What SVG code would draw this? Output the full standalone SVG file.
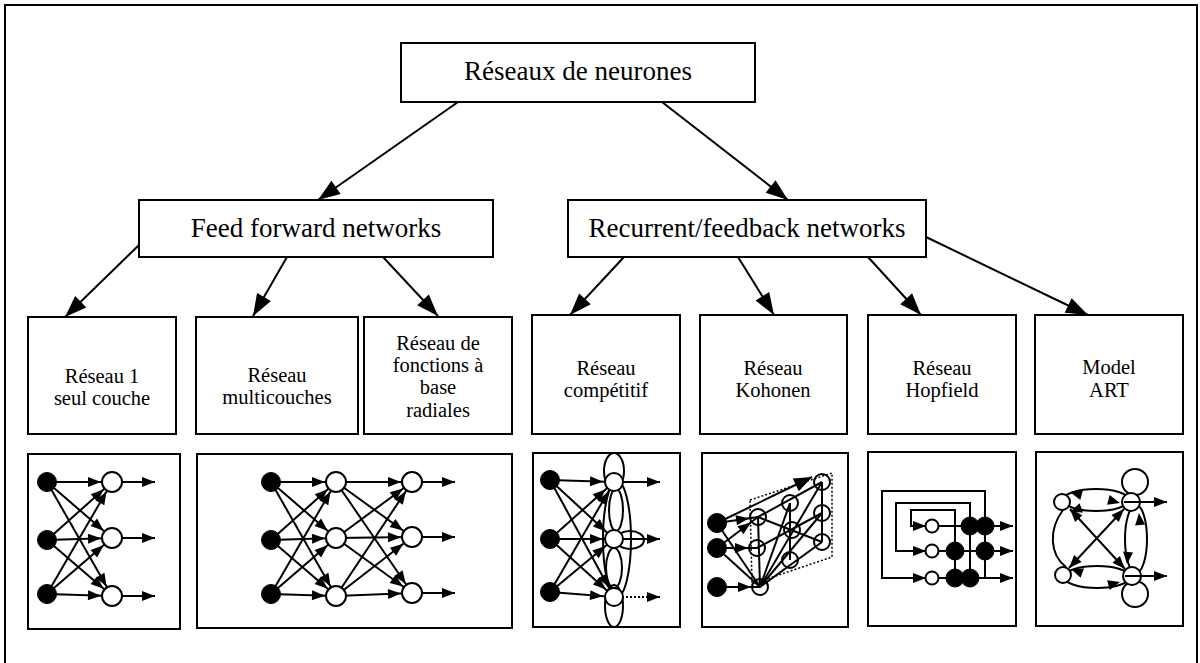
<svg xmlns="http://www.w3.org/2000/svg" xmlns:xlink="http://www.w3.org/1999/xlink" width="1200" height="663" viewBox="0 0 1200 663">
  <style>
    .frame { fill: none; stroke: #000; stroke-width: 2; }
    .box { fill: #fff; stroke: #000; stroke-width: 2; }
    .t1 { font-family: "Liberation Serif", "Times New Roman", serif; font-size: 27px; fill: #000; text-anchor: middle; }
    .t2 { font-family: "Liberation Serif", "Times New Roman", serif; font-size: 20.5px; fill: #000; text-anchor: middle; }
    .conn line { stroke: #000; stroke-width: 2; }
    .net line, .net path, .net polyline { stroke: #000; stroke-width: 2; fill: none; }
    .net .dot { stroke-dasharray: 2 2; }
    .on { fill: #fff; stroke: #000; stroke-width: 2; }
    .off { fill: #000; stroke: #000; stroke-width: 1; }
    .ring { fill: none; stroke: #000; stroke-width: 2; }
    .tri { fill: #000; }
  </style>
  <defs>
    <!-- large arrowhead for the hierarchy -->
    <marker id="hd" markerUnits="userSpaceOnUse" markerWidth="22" markerHeight="16" refX="22" refY="8" orient="auto" overflow="visible">
      <path d="M0,0 L22,8 L0,16 Z" fill="#000"/>
    </marker>
    <!-- medium arrowhead -->
    <marker id="mh" markerUnits="userSpaceOnUse" markerWidth="18" markerHeight="14" refX="18" refY="7" orient="auto" overflow="visible">
      <path d="M0,0 L18,7 L0,14 Z" fill="#000"/>
    </marker>
    <!-- small arrowhead, tip at the line end -->
    <marker id="sa" markerUnits="userSpaceOnUse" markerWidth="13" markerHeight="10" refX="13" refY="5" orient="auto-start-reverse" overflow="visible">
      <path d="M0,0 L13,5 L0,10 Z" fill="#000"/>
    </marker>
    <!-- small arrowhead stopping short of a r=10 neuron -->
    <marker id="s10" markerUnits="userSpaceOnUse" markerWidth="24" markerHeight="10" refX="24" refY="5" orient="auto" overflow="visible">
      <path d="M0,0 L13,5 L0,10 Z" fill="#000"/>
    </marker>
    <!-- small arrowhead stopping short of a r=8 neuron -->
    <marker id="s7" markerUnits="userSpaceOnUse" markerWidth="22" markerHeight="10" refX="22" refY="5" orient="auto" overflow="visible">
      <path d="M0,0 L13,5 L0,10 Z" fill="#000"/>
    </marker>
    <path id="tri" d="M0,0 L-12,-5 L-12,5 Z"/>
  </defs>

  <!-- outer frame -->
  <rect class="frame" x="5" y="5" width="1192" height="700"/>

  <!-- hierarchy connectors -->
  <g id="connectors" class="conn">
    <line x1="458" y1="102" x2="318" y2="200" marker-end="url(#hd)"/>
    <line x1="662" y1="102" x2="788" y2="200" marker-end="url(#hd)"/>
    <line x1="139" y1="245" x2="65" y2="317" marker-end="url(#hd)"/>
    <line x1="287" y1="257" x2="253" y2="316" marker-end="url(#hd)"/>
    <line x1="383" y1="257" x2="438" y2="316" marker-end="url(#hd)"/>
    <line x1="624" y1="257" x2="570" y2="315" marker-end="url(#hd)"/>
    <line x1="738" y1="257" x2="774" y2="315" marker-end="url(#hd)"/>
    <line x1="868" y1="257" x2="921" y2="315" marker-end="url(#hd)"/>
    <line x1="926" y1="237" x2="1088" y2="315" marker-end="url(#hd)"/>
  </g>

  <!-- top and second level -->
  <g id="root">
    <rect class="box" x="401" y="43" width="354" height="59"/>
    <text class="t1" x="578" y="80">Réseaux de neurones</text>
  </g>
  <g id="feedforward">
    <rect class="box" x="139" y="200" width="354" height="57"/>
    <text class="t1" x="316" y="237">Feed forward networks</text>
  </g>
  <g id="recurrent">
    <rect class="box" x="568" y="200" width="358" height="57"/>
    <text class="t1" x="747" y="237">Recurrent/feedback networks</text>
  </g>

  <!-- third level labels -->
  <g id="single-layer">
    <rect class="box" x="28" y="317" width="148" height="117"/>
    <text class="t2" x="102" y="383">Réseau  1<tspan x="102" dy="22">seul couche</tspan></text>
  </g>
  <g id="multilayer">
    <rect class="box" x="196" y="317" width="162" height="117"/>
    <text class="t2" x="277" y="382">Réseau<tspan x="277" dy="22">multicouches</tspan></text>
  </g>
  <g id="rbf">
    <rect class="box" x="364" y="317" width="148" height="117"/>
    <text class="t2" x="438" y="350">Réseau de<tspan x="438" dy="22">fonctions à</tspan><tspan x="438" dy="22">base</tspan><tspan x="438" dy="23">radiales</tspan></text>
  </g>
  <g id="competitive">
    <rect class="box" x="532" y="315" width="148" height="119"/>
    <text class="t2" x="606" y="375">Réseau<tspan x="606" dy="22">compétitif</tspan></text>
  </g>
  <g id="kohonen">
    <rect class="box" x="700" y="315" width="147" height="119"/>
    <text class="t2" x="773" y="375">Réseau<tspan x="773" dy="22">Kohonen</tspan></text>
  </g>
  <g id="hopfield">
    <rect class="box" x="868" y="315" width="148" height="119"/>
    <text class="t2" x="942" y="375">Réseau<tspan x="942" dy="22">Hopfield</tspan></text>
  </g>
  <g id="art">
    <rect class="box" x="1035" y="315" width="148" height="119"/>
    <text class="t2" x="1109" y="374">Model<tspan x="1109" dy="23">ART</tspan></text>
  </g>

  <!-- single-layer network sketch -->
  <g id="sketch-single" class="net">
    <rect class="box" x="28" y="454" width="152" height="175"/>
    <line x1="47" y1="482" x2="112" y2="482" marker-end="url(#s10)"/>
    <line x1="47" y1="482" x2="112" y2="538" marker-end="url(#s10)"/>
    <line x1="47" y1="482" x2="112" y2="596" marker-end="url(#s10)"/>
    <line x1="47" y1="540" x2="112" y2="482" marker-end="url(#s10)"/>
    <line x1="47" y1="540" x2="112" y2="538" marker-end="url(#s10)"/>
    <line x1="47" y1="540" x2="112" y2="596" marker-end="url(#s10)"/>
    <line x1="47" y1="594" x2="112" y2="482" marker-end="url(#s10)"/>
    <line x1="47" y1="594" x2="112" y2="538" marker-end="url(#s10)"/>
    <line x1="47" y1="594" x2="112" y2="596" marker-end="url(#s10)"/>
    <line x1="112" y1="482" x2="155" y2="482" marker-end="url(#sa)"/>
    <line x1="112" y1="538" x2="155" y2="538" marker-end="url(#sa)"/>
    <line x1="112" y1="596" x2="155" y2="596" marker-end="url(#sa)"/>
    <circle class="off" cx="47" cy="482" r="9.5"/>
    <circle class="off" cx="47" cy="540" r="9.5"/>
    <circle class="off" cx="47" cy="594" r="9.5"/>
    <circle class="on" cx="112" cy="482" r="10"/>
    <circle class="on" cx="112" cy="538" r="10"/>
    <circle class="on" cx="112" cy="596" r="10"/>
  </g>

  <!-- multilayer network sketch -->
  <g id="sketch-multi" class="net">
    <rect class="box" x="197" y="454" width="315" height="174"/>
    <line x1="271" y1="482" x2="336" y2="482" marker-end="url(#s10)"/>
    <line x1="271" y1="482" x2="336" y2="538" marker-end="url(#s10)"/>
    <line x1="271" y1="482" x2="336" y2="596" marker-end="url(#s10)"/>
    <line x1="271" y1="540" x2="336" y2="482" marker-end="url(#s10)"/>
    <line x1="271" y1="540" x2="336" y2="538" marker-end="url(#s10)"/>
    <line x1="271" y1="540" x2="336" y2="596" marker-end="url(#s10)"/>
    <line x1="271" y1="594" x2="336" y2="482" marker-end="url(#s10)"/>
    <line x1="271" y1="594" x2="336" y2="538" marker-end="url(#s10)"/>
    <line x1="271" y1="594" x2="336" y2="596" marker-end="url(#s10)"/>
    <line x1="336" y1="482" x2="412" y2="482" marker-end="url(#s10)"/>
    <line x1="336" y1="482" x2="412" y2="537" marker-end="url(#s10)"/>
    <line x1="336" y1="482" x2="412" y2="593" marker-end="url(#s10)"/>
    <line x1="336" y1="538" x2="412" y2="482" marker-end="url(#s10)"/>
    <line x1="336" y1="538" x2="412" y2="537" marker-end="url(#s10)"/>
    <line x1="336" y1="538" x2="412" y2="593" marker-end="url(#s10)"/>
    <line x1="336" y1="596" x2="412" y2="482" marker-end="url(#s10)"/>
    <line x1="336" y1="596" x2="412" y2="537" marker-end="url(#s10)"/>
    <line x1="336" y1="596" x2="412" y2="593" marker-end="url(#s10)"/>
    <line x1="412" y1="482" x2="455" y2="482" marker-end="url(#sa)"/>
    <line x1="412" y1="537" x2="455" y2="537" marker-end="url(#sa)"/>
    <line x1="412" y1="593" x2="455" y2="593" marker-end="url(#sa)"/>
    <circle class="off" cx="271" cy="482" r="9.5"/>
    <circle class="off" cx="271" cy="540" r="9.5"/>
    <circle class="off" cx="271" cy="594" r="9.5"/>
    <circle class="on" cx="336" cy="482" r="10"/>
    <circle class="on" cx="336" cy="538" r="10"/>
    <circle class="on" cx="336" cy="596" r="10"/>
    <circle class="on" cx="412" cy="482" r="10"/>
    <circle class="on" cx="412" cy="537" r="10"/>
    <circle class="on" cx="412" cy="593" r="10"/>
  </g>

  <!-- competitive network sketch -->
  <g id="sketch-competitive" class="net">
    <rect class="box" x="533" y="453" width="147" height="174"/>
    <line x1="550" y1="480" x2="614" y2="482" marker-end="url(#s10)"/>
    <line x1="550" y1="480" x2="614" y2="539" marker-end="url(#s10)"/>
    <line x1="550" y1="480" x2="614" y2="597" marker-end="url(#s10)"/>
    <line x1="550" y1="539" x2="614" y2="482" marker-end="url(#s10)"/>
    <line x1="550" y1="539" x2="614" y2="539" marker-end="url(#s10)"/>
    <line x1="550" y1="539" x2="614" y2="597" marker-end="url(#s10)"/>
    <line x1="550" y1="592" x2="614" y2="482" marker-end="url(#s10)"/>
    <line x1="550" y1="592" x2="614" y2="539" marker-end="url(#s10)"/>
    <line x1="550" y1="592" x2="614" y2="597" marker-end="url(#s10)"/>
    <line x1="614" y1="482" x2="660" y2="482" marker-end="url(#sa)"/>
    <line x1="614" y1="539" x2="660" y2="539" marker-end="url(#sa)"/>
    <line class="dot" x1="614" y1="597" x2="660" y2="597" marker-end="url(#sa)"/>
    <ellipse class="ring" cx="617" cy="539" rx="14" ry="58"/>
    <ellipse class="ring" cx="614" cy="471" rx="10" ry="18"/>
    <ellipse class="ring" cx="616" cy="510" rx="7" ry="21"/>
    <ellipse class="ring" cx="614" cy="568" rx="8" ry="20"/>
    <ellipse class="ring" cx="614" cy="606" rx="9" ry="21"/>
    <ellipse class="ring" cx="630" cy="540" rx="14" ry="9"/>
    <circle class="off" cx="550" cy="480" r="9.5"/>
    <circle class="off" cx="550" cy="539" r="9.5"/>
    <circle class="off" cx="550" cy="592" r="9.5"/>
    <circle class="on" cx="614" cy="482" r="9"/>
    <circle class="on" cx="614" cy="539" r="9"/>
    <circle class="on" cx="614" cy="597" r="9"/>
  </g>

  <!-- Kohonen map sketch -->
  <g id="sketch-kohonen" class="net">
    <rect class="box" x="702" y="453" width="146" height="174"/>
    <polygon class="dot" points="750,500 832,473 832,557 752,584" fill="none" stroke="#000" stroke-width="1.5"/>
    <!-- lattice links -->
    <line x1="758" y1="517" x2="822" y2="482"/>
    <line x1="757" y1="548" x2="822" y2="513"/>
    <line x1="760" y1="587" x2="822" y2="542"/>
    <line x1="758" y1="517" x2="822" y2="542"/>
    <line x1="760" y1="587" x2="822" y2="482"/>
    <line x1="760" y1="587" x2="822" y2="513"/>
    <line x1="760" y1="587" x2="790" y2="503"/>
    <line x1="758" y1="517" x2="760" y2="587"/>
    <line x1="790" y1="503" x2="790" y2="560"/>
    <line x1="822" y1="482" x2="822" y2="542"/>
    <!-- input links -->
    <line x1="717" y1="523" x2="812" y2="477" marker-end="url(#mh)"/>
    <line x1="717" y1="523" x2="758" y2="517" marker-end="url(#s7)"/>
    <line x1="717" y1="548" x2="758" y2="517" marker-end="url(#s7)"/>
    <line x1="717" y1="548" x2="757" y2="548" marker-end="url(#s7)"/>
    <line x1="717" y1="523" x2="760" y2="587"/>
    <line x1="717" y1="548" x2="760" y2="587"/>
    <line x1="717" y1="587" x2="760" y2="587" marker-end="url(#s7)"/>
    <circle class="off" cx="717" cy="523" r="9.5"/>
    <circle class="off" cx="717" cy="548" r="9.5"/>
    <circle class="off" cx="717" cy="587" r="9.5"/>
    <circle class="ring" cx="758" cy="517" r="8"/>
    <circle class="ring" cx="757" cy="548" r="8"/>
    <circle class="ring" cx="760" cy="587" r="8"/>
    <circle class="ring" cx="790" cy="503" r="8"/>
    <circle class="ring" cx="792" cy="530" r="8"/>
    <circle class="ring" cx="790" cy="560" r="8"/>
    <circle class="ring" cx="822" cy="482" r="8"/>
    <circle class="ring" cx="822" cy="513" r="8"/>
    <circle class="ring" cx="822" cy="542" r="8"/>
  </g>

  <!-- Hopfield network sketch -->
  <g id="sketch-hopfield" class="net">
    <rect class="box" x="868" y="452" width="148" height="174"/>
    <path d="M955,578 V510 H911 V526 H926" marker-end="url(#sa)"/>
    <path d="M970,578 V503 H896 V551 H926" marker-end="url(#sa)"/>
    <path d="M985,578 V491 H882 V578 H926" marker-end="url(#sa)"/>
    <line x1="932" y1="526" x2="1013" y2="526" marker-end="url(#sa)"/>
    <line x1="932" y1="551" x2="1013" y2="551" marker-end="url(#sa)"/>
    <line x1="932" y1="578" x2="1013" y2="578" marker-end="url(#sa)"/>
    <circle class="on" cx="932" cy="526" r="6.5"/>
    <circle class="on" cx="932" cy="551" r="6.5"/>
    <circle class="on" cx="932" cy="578" r="6.5"/>
    <circle class="off" cx="970" cy="526" r="9"/>
    <circle class="off" cx="985" cy="526" r="9"/>
    <circle class="off" cx="955" cy="551" r="9"/>
    <circle class="off" cx="985" cy="551" r="9"/>
    <circle class="off" cx="955" cy="578" r="9"/>
    <circle class="off" cx="970" cy="578" r="9"/>
  </g>

  <!-- ART model sketch -->
  <g id="sketch-art" class="net">
    <rect class="box" x="1036" y="452" width="147" height="174"/>
    <ellipse class="ring" cx="1096" cy="500" rx="33" ry="11"/>
    <ellipse class="ring" cx="1097" cy="577" rx="33" ry="11"/>
    <ellipse class="ring" cx="1136" cy="539" rx="11" ry="34"/>
    <path d="M1063,510 C1048,530 1050,555 1066,567"/>
    <line x1="1070" y1="509" x2="1125" y2="569" marker-start="url(#sa)" marker-end="url(#sa)"/>
    <line x1="1069" y1="568" x2="1124" y2="509" marker-start="url(#sa)" marker-end="url(#sa)"/>
    <use href="#tri" class="tri" transform="translate(1070,492) rotate(195)"/>
    <use href="#tri" class="tri" transform="translate(1120,503) rotate(15)"/>
    <use href="#tri" class="tri" transform="translate(1070,512) rotate(160)"/>
    <use href="#tri" class="tri" transform="translate(1120,582) rotate(-15)"/>
    <use href="#tri" class="tri" transform="translate(1071,569) rotate(200)"/>
    <use href="#tri" class="tri" transform="translate(1139,513) rotate(-95)"/>
    <use href="#tri" class="tri" transform="translate(1127,564) rotate(95)"/>
    <circle class="on" cx="1135" cy="482" r="13"/>
    <circle class="on" cx="1135" cy="594" r="13"/>
    <circle class="on" cx="1062" cy="502" r="8"/>
    <circle class="on" cx="1063" cy="575" r="8"/>
    <circle class="on" cx="1131" cy="502" r="9"/>
    <circle class="on" cx="1132" cy="576" r="9"/>
    <line x1="1124" y1="502" x2="1167" y2="502" marker-end="url(#sa)"/>
    <line x1="1125" y1="576" x2="1167" y2="576" marker-end="url(#sa)"/>
  </g>
</svg>
